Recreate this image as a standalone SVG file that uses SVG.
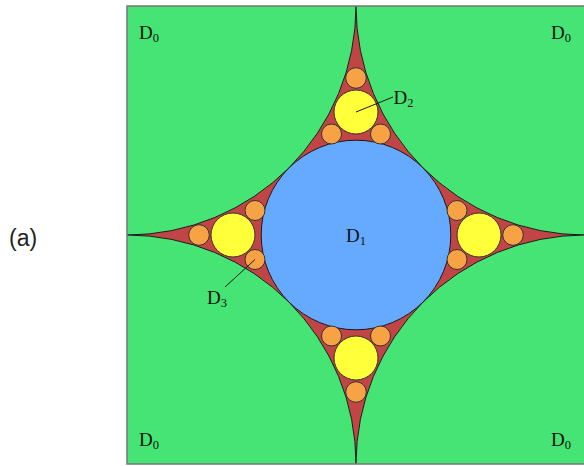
<svg xmlns="http://www.w3.org/2000/svg" width="584" height="466" viewBox="0 0 584 466">
<style>
.bg{fill:#c24545}
.corner{fill:#45e474;stroke:#1a1a1a;stroke-width:1}
.d1{fill:#66aaff;stroke:#1a1a1a;stroke-width:1}
.d2{fill:#ffff3a;stroke:#333;stroke-width:1}
.d3{fill:#f7a345;stroke:#333;stroke-width:1}
.lbl{font-family:"Liberation Serif","Times New Roman",serif;font-size:19px;fill:#111}
.sub{font-size:12.5px}
.lead{stroke:#1a1a1a;stroke-width:1;fill:none}
</style>
<defs>
<clipPath id="sq"><rect x="127" y="6" width="458" height="458"/></clipPath>
</defs>
<rect width="584" height="466" fill="#ffffff"/>
<g id="D0" clip-path="url(#sq)">
<rect class="bg" x="127" y="6" width="458" height="458"/>
<circle class="corner" cx="127" cy="6" r="229"/>
<circle class="corner" cx="585" cy="6" r="229"/>
<circle class="corner" cx="127" cy="464" r="229"/>
<circle class="corner" cx="585" cy="464" r="229"/>
</g>
<rect x="127" y="6" width="458" height="458" fill="none" stroke="#777" stroke-width="1.5"/>
<g id="D1"><circle class="d1" cx="356" cy="235" r="94.8"/></g>
<g id="D2">
<circle class="d2" cx="356" cy="112" r="22"/>
<circle class="d2" cx="479" cy="235" r="22"/>
<circle class="d2" cx="356" cy="358" r="22"/>
<circle class="d2" cx="233" cy="235" r="22"/>
</g>
<g id="D3">
<circle class="d3" cx="356" cy="78" r="10.3"/>
<circle class="d3" cx="331.5" cy="134" r="10"/>
<circle class="d3" cx="380.5" cy="134" r="10"/>
<circle class="d3" cx="513" cy="235" r="10.3"/>
<circle class="d3" cx="457" cy="210.5" r="10"/>
<circle class="d3" cx="457" cy="259.5" r="10"/>
<circle class="d3" cx="356" cy="392" r="10.3"/>
<circle class="d3" cx="331.5" cy="336" r="10"/>
<circle class="d3" cx="380.5" cy="336" r="10"/>
<circle class="d3" cx="199" cy="235" r="10.3"/>
<circle class="d3" cx="255" cy="210.5" r="10"/>
<circle class="d3" cx="255" cy="259.5" r="10"/>
</g>
<g id="connectors">
<line class="lead" x1="356" y1="112" x2="393" y2="97"/>
<line class="lead" x1="255" y1="259.5" x2="225" y2="287"/>
</g>
<g id="labels">
<text class="lbl" x="139" y="38.5">D<tspan class="sub" dy="3">0</tspan></text>
<text class="lbl" x="551" y="38.5">D<tspan class="sub" dy="3">0</tspan></text>
<text class="lbl" x="139" y="446">D<tspan class="sub" dy="3">0</tspan></text>
<text class="lbl" x="551" y="446">D<tspan class="sub" dy="3">0</tspan></text>
<text class="lbl" x="346" y="241.5">D<tspan class="sub" dy="3">1</tspan></text>
<text class="lbl" x="393.5" y="104">D<tspan class="sub" dy="3">2</tspan></text>
<text class="lbl" x="207" y="303.5">D<tspan class="sub" dy="3">3</tspan></text>
<text x="9" y="246" font-family="Liberation Sans, Arial, sans-serif" font-size="23" fill="#222">(a)</text>
</g>
</svg>
